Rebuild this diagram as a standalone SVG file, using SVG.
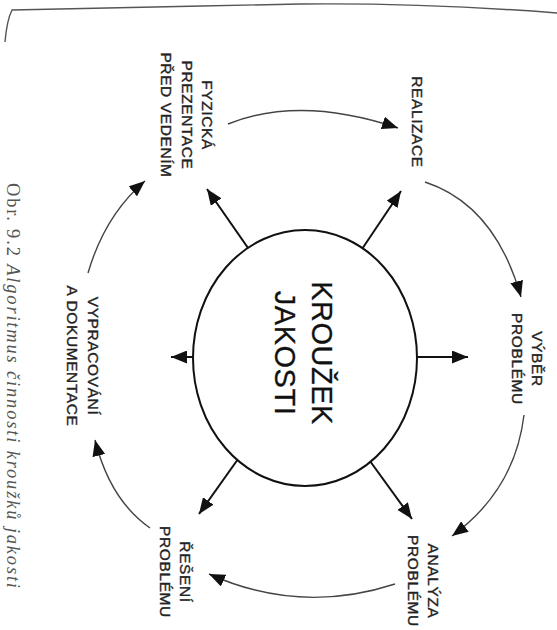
<svg xmlns="http://www.w3.org/2000/svg" width="557" height="630" viewBox="0 0 557 630">
<defs>
<marker id="ah" markerWidth="17" markerHeight="13" refX="16" refY="6.5" orient="auto" markerUnits="userSpaceOnUse">
<path d="M0,0 L16,6.5 L0,13 z" fill="#111"/>
</marker>
<style>
.lbl{font-family:"Liberation Sans",Arial,sans-serif;font-size:15.5px;fill:#222;stroke:#222;stroke-width:0.35px;text-anchor:middle;letter-spacing:0.6px}
.big{font-family:"Liberation Sans",Arial,sans-serif;font-size:29px;fill:#111;stroke:#111;stroke-width:0.3px;text-anchor:middle;letter-spacing:0.5px}
.cap{font-family:"Liberation Serif","Times New Roman",serif;font-size:18.5px;fill:#555}
.cyc{fill:none;stroke:#444;stroke-width:1.4}
.rad{fill:none;stroke:#111;stroke-width:2}
</style>
</defs>
<rect width="557" height="630" fill="#fff"/>
<path d="M5,42 C6,30 8,18 12,10 C60,9 200,6 300,4 C400,3 480,7 557,13" fill="none" stroke="#555" stroke-width="1.4"/>
<g id="connectors">
<path class="cyc" d="M228,124 Q300,95 398,128" marker-end="url(#ah)"/>
<path class="cyc" d="M425,182 Q495,205 521,297" marker-end="url(#ah)"/>
<path class="cyc" d="M524,415 Q515,490 452,536" marker-end="url(#ah)"/>
<path class="cyc" d="M395,584 Q300,615 209,574" marker-end="url(#ah)"/>
<path class="cyc" d="M150,528 Q110,500 95,440" marker-end="url(#ah)"/>
<path class="cyc" d="M88,273 Q105,215 145,181" marker-end="url(#ah)"/>
<line class="rad" x1="200" y1="357" x2="171" y2="357" marker-end="url(#ah)"/>
<line class="rad" x1="410" y1="357" x2="468" y2="357" marker-end="url(#ah)"/>
<line class="rad" x1="255" y1="258" x2="207" y2="189" marker-end="url(#ah)"/>
<line class="rad" x1="358" y1="255" x2="401" y2="191" marker-end="url(#ah)"/>
<line class="rad" x1="248" y1="445" x2="199" y2="514" marker-end="url(#ah)"/>
<line class="rad" x1="362" y1="450" x2="412" y2="519" marker-end="url(#ah)"/>
</g>
<g id="center">
<ellipse cx="305" cy="358" rx="112" ry="128" fill="#fff" stroke="#111" stroke-width="2"/>
<text class="big" transform="translate(312,353) rotate(90)"><tspan x="0" y="0">KROUŽEK</tspan><tspan x="0" y="37">JAKOSTI</tspan></text>
</g>
<g id="n-fyzicka">
<text class="lbl" transform="translate(202,115) rotate(90)"><tspan x="0" y="0">FYZICKÁ</tspan><tspan x="0" y="20.5">PREZENTACE</tspan><tspan x="0" y="41">PŘED VEDENÍM</tspan></text>
</g>
<g id="n-realizace">
<text class="lbl" transform="translate(412,122) rotate(90)"><tspan x="0" y="0">REALIZACE</tspan></text>
</g>
<g id="n-vyber">
<text class="lbl" transform="translate(532,359) rotate(90)"><tspan x="0" y="0">VÝBĚR</tspan><tspan x="0" y="20">PROBLÉMU</tspan></text>
</g>
<g id="n-analyza">
<text class="lbl" transform="translate(428,581) rotate(90)"><tspan x="0" y="0">ANALÝZA</tspan><tspan x="0" y="20">PROBLÉMU</tspan></text>
</g>
<g id="n-reseni">
<text class="lbl" transform="translate(180,572) rotate(90)"><tspan x="0" y="0">ŘEŠENÍ</tspan><tspan x="0" y="20">PROBLÉMU</tspan></text>
</g>
<g id="n-vypracovani">
<text class="lbl" transform="translate(88,356) rotate(90)"><tspan x="0" y="0">VYPRACOVÁNÍ</tspan><tspan x="0" y="21">A DOKUMENTACE</tspan></text>
</g>
<g id="caption">
<text class="cap" transform="translate(7,183) rotate(90)" x="0" y="0" textLength="405" lengthAdjust="spacing">Obr. 9.2 <tspan font-style="italic">Algoritmus činnosti kroužků jakosti</tspan></text>
</g>
</svg>
